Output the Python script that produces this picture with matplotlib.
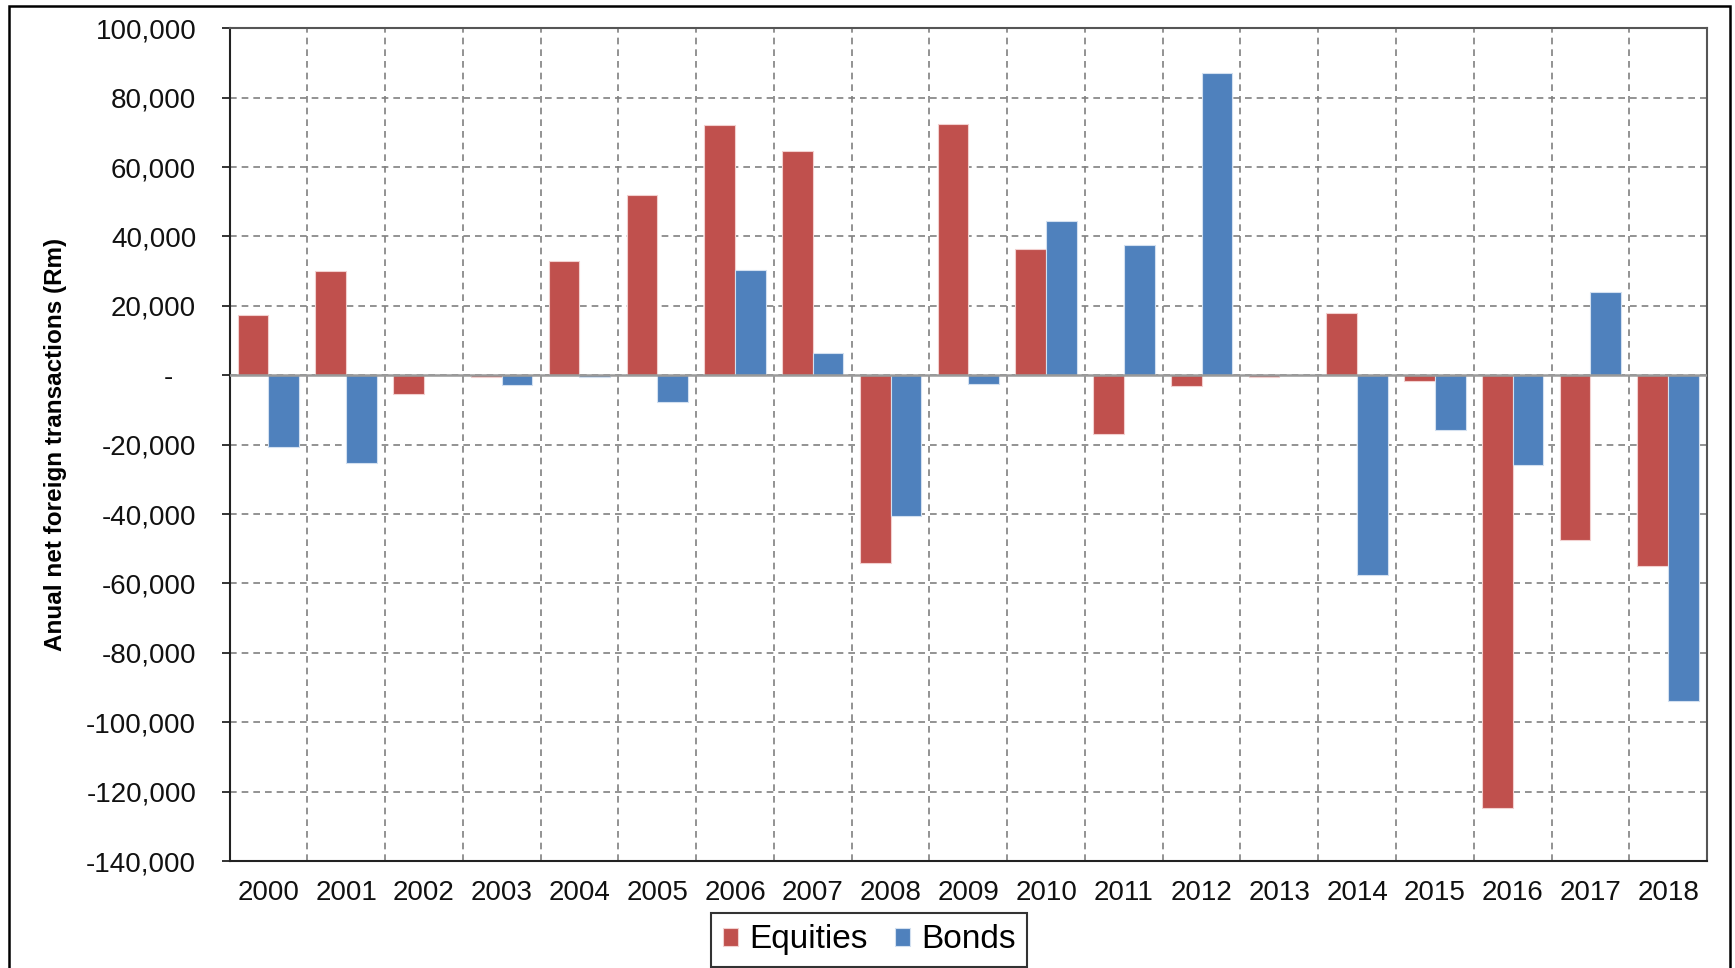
import numpy as np
import matplotlib.pyplot as plt
from matplotlib.patches import Rectangle
from matplotlib.ticker import FuncFormatter, FixedLocator

plt.rcParams['font.family'] = ['Liberation Sans', 'DejaVu Sans']

years = [str(y) for y in range(2000, 2019)]
equities = [17500, 30000, -5400, -600, 33000, 52000, 72000, 64500, -54100, 72500,
            36500, -17000, -3200, -600, 18000, -1800, -124800, -47400, -55000]
bonds = [-20600, -25400, 0, -2700, -600, -7800, 30300, 6400, -40500, -2400,
         44500, 37400, 87000, 0, -57500, -15700, -25800, 24000, -94000]

red = '#C0504D'
blue = '#4F81BD'

fig = plt.figure(figsize=(17.35, 9.68), dpi=100)
ax = fig.add_axes([0.1323, 0.1105, 0.8516, 0.8603])

x = np.arange(len(years))
w = 0.395
ax.bar(x - w / 2, equities, w, color=red, edgecolor='#f2d0cf', linewidth=0.8,
       label='Equities', zorder=3)
ax.bar(x + w / 2, bonds, w, color=blue, edgecolor='#d3e0f0', linewidth=0.8,
       label='Bonds', zorder=3)

ax.set_xlim(-0.5, len(years) - 0.5)
ax.set_ylim(-140000, 100000)
ax.set_yticks(np.arange(-140000, 100001, 20000))
ax.yaxis.set_major_formatter(FuncFormatter(
    lambda v, p: '-   ' if v == 0 else f'{v:,.0f}'))

ax.set_xticks(x)
ax.set_xticklabels(years)
ax.xaxis.set_minor_locator(FixedLocator(np.arange(0.5, len(years) - 1, 1.0)))

# dashed grid: horizontal at value ticks, vertical between year groups
ax.grid(axis='y', which='major', linestyle=(0, (4, 3)), color='#808080',
        linewidth=1.2, zorder=0)
ax.grid(axis='x', which='minor', linestyle=(0, (4, 3)), color='#808080',
        linewidth=1.2, zorder=0)
ax.axhline(0, color='#9a9a9a', linewidth=1.8, zorder=4)

ax.tick_params(axis='y', labelsize=20, length=6, width=1.2, pad=18,
               colors='#111111')
ax.tick_params(axis='x', labelsize=20, length=0, pad=14, colors='#111111')
ax.tick_params(axis='x', which='minor', length=0)

for side in ['left', 'bottom']:
    ax.spines[side].set_color('#222222')
    ax.spines[side].set_linewidth(1.5)
for side in ['top', 'right']:
    ax.spines[side].set_color('#555555')
    ax.spines[side].set_linewidth(1.5)

ax.set_ylabel('Anual net foreign transactions (Rm)', fontsize=17.5,
              fontweight='bold', labelpad=14)

leg = fig.legend(loc='center', bbox_to_anchor=(0.501, 0.029), ncol=2,
                 fontsize=24, frameon=True, fancybox=False, edgecolor='black',
                 handlelength=0.45, handleheight=0.45, handletextpad=0.35,
                 columnspacing=0.8, borderpad=0.35, borderaxespad=0)
leg.get_frame().set_linewidth(1.5)

# outer chart border
fig.patches.append(Rectangle((9 / 1735, -0.01), 1721 / 1735, 1.01 - 6 / 968,
                             transform=fig.transFigure, fill=False,
                             edgecolor='black', linewidth=1.8))

fig.savefig('out.png', dpi=100)
